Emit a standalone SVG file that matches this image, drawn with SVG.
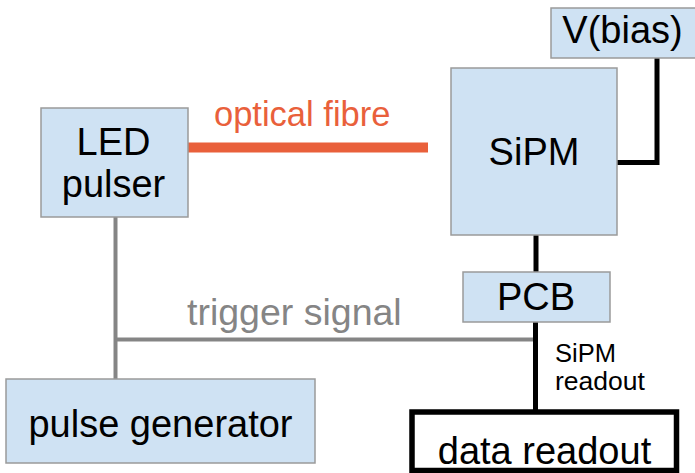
<svg xmlns="http://www.w3.org/2000/svg" width="695" height="473" viewBox="0 0 695 473">
  <style>
    .box { fill: #cfe2f3; stroke: #9a9a9a; stroke-width: 1.5; }
    .lbl { font-family: "Liberation Sans", Arial, sans-serif; fill: #000; text-anchor: middle; font-size: 38px; }
    .wire { fill: none; stroke: #000; stroke-width: 5; }
    .trig { fill: none; stroke: #858585; stroke-width: 4; }
    .fibre { fill: none; stroke: #e9603b; stroke-width: 10; }
    .note { font-family: "Liberation Sans", Arial, sans-serif; }
  </style>
  <rect width="695" height="473" fill="#fff"/>

  <!-- connectors and their labels -->
  <g id="connectors">
    <line class="fibre" x1="188" y1="147.5" x2="428" y2="147.5"/>
    <polyline class="trig" points="115.5,217 115.5,379"/>
    <line class="trig" x1="115.5" y1="339.5" x2="536" y2="339.5"/>
    <polyline class="wire" points="657,58 657,162.5 617,162.5"/>
    <line class="wire" x1="536" y1="235" x2="536" y2="272"/>
    <line class="wire" x1="535.5" y1="322" x2="535.5" y2="410"/>
    <text class="note" x="214" y="126" font-size="34.5" fill="#e9603b">optical fibre</text>
    <text class="note" x="187" y="325" font-size="37.5" fill="#858585">trigger signal</text>
    <text class="note" x="555" y="362" font-size="25.5" fill="#000">SiPM</text>
    <text class="note" x="555" y="390" font-size="26.5" fill="#000">readout</text>
  </g>

  <g id="led-pulser">
    <rect class="box" x="41" y="108" width="147" height="109"/>
    <text class="lbl" x="113.5" y="154.5">LED</text>
    <text class="lbl" x="113.5" y="196.5">pulser</text>
  </g>

  <g id="sipm">
    <rect class="box" x="451" y="68" width="166" height="167"/>
    <text class="lbl" x="534" y="165">SiPM</text>
  </g>

  <g id="vbias">
    <rect class="box" x="551" y="8" width="150" height="50"/>
    <text class="lbl" x="622.5" y="43">V(bias)</text>
  </g>

  <g id="pcb">
    <rect class="box" x="463" y="272" width="147" height="50"/>
    <text class="lbl" x="536" y="310">PCB</text>
  </g>

  <g id="pulse-generator">
    <rect class="box" x="6" y="379" width="309" height="84"/>
    <text class="lbl" x="160.5" y="437">pulse generator</text>
  </g>

  <g id="data-readout">
    <rect x="412" y="412" width="264.5" height="58.5" fill="#fff" stroke="#000" stroke-width="5.5"/>
    <text class="lbl" x="544.5" y="463.5">data readout</text>
  </g>
</svg>
